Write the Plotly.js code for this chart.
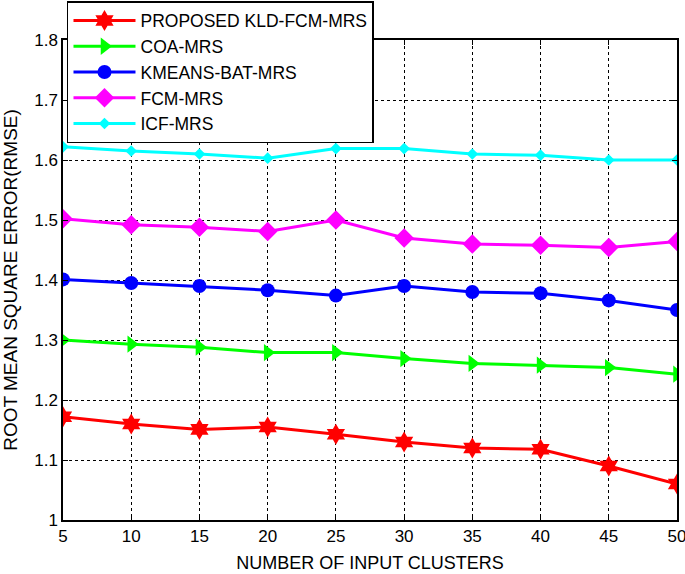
<!DOCTYPE html>
<html><head><meta charset="utf-8">
<script src="https://cdn.plot.ly/plotly-3.0.1.min.js"></script>
<style>body{margin:0;background:#fff}#chart{width:685px;height:574px}</style>
</head><body><div id="chart"></div>
<script>
const clusters = [5,10,15,20,25,30,35,40,45,50];
const proposed = [1.172,1.160,1.151,1.155,1.143,1.130,1.120,1.118,1.090,1.060];
const coa      = [1.300,1.293,1.288,1.279,1.279,1.269,1.261,1.258,1.254,1.243];
const kmeansBat= [1.401,1.395,1.390,1.383,1.374,1.390,1.380,1.378,1.366,1.350];
const fcm      = [1.502,1.492,1.488,1.481,1.500,1.470,1.460,1.458,1.454,1.464];
const icf      = [1.622,1.615,1.610,1.603,1.619,1.619,1.610,1.608,1.600,1.600];
const names = ['PROPOSED KLD-FCM-MRS','COA-MRS','KMEANS-BAT-MRS','FCM-MRS','ICF-MRS'];
const tickVals = [1,1.1,1.2,1.3,1.4,1.5,1.6,1.7,1.8];
const tickText = ['1','1.1','1.2','1.3','1.4','1.5','1.6','1.7','1.8'];

const mk = (y,name,color,symbol,size)=>({x:clusters,y:y,name:name,type:'scatter',mode:'lines+markers',
  line:{color:color,width:3},marker:{color:color,symbol:symbol,size:size}});
const data = [
  mk(proposed,names[0],'#ff0000','hexagram',16),
  mk(coa,names[1],'#00ff00','triangle-right',15),
  mk(kmeansBat,names[2],'#0000ff','circle',14),
  mk(fcm,names[3],'#ff00ff','diamond',15),
  mk(icf,names[4],'#00ffff','diamond',9)
];
const layout = {
  width:685,height:574,paper_bgcolor:'#fff',plot_bgcolor:'#fff',
  margin:{l:63,r:8,t:40,b:54,autoexpand:false},
  font:{family:'Liberation Sans, Arial, sans-serif',size:17,color:'#000'},
  showlegend:true,
  legend:{x:0.0065,y:1.081,xanchor:'left',yanchor:'top',
    bgcolor:'#fff',bordercolor:'#000',borderwidth:1.5,
    font:{size:17.5},tracegroupgap:0,itemwidth:62},
  xaxis:{range:[5,50],tickvals:clusters,ticks:'inside',ticklen:5,tickcolor:'#000',ticklabeloverflow:'allow',
    tickfont:{size:17},automargin:false,
    showline:true,linecolor:'#000',linewidth:1.5,mirror:'ticks',zeroline:false,
    showgrid:true,gridcolor:'#000',griddash:'dot',gridwidth:1,
    title:{text:'NUMBER OF INPUT CLUSTERS',font:{size:18},standoff:11}},
  yaxis:{range:[1,1.8],tickvals:tickVals,ticktext:tickText,automargin:false,
    ticks:'inside',ticklen:5,tickcolor:'#000',tickfont:{size:17},
    showline:true,linecolor:'#000',linewidth:1.5,mirror:'ticks',zeroline:false,
    showgrid:true,gridcolor:'#000',griddash:'dot',gridwidth:1,
    title:{text:'ROOT MEAN SQUARE ERROR(RMSE)',font:{size:19},standoff:12}}
};
Plotly.newPlot('chart',data,layout,{displayModeBar:false});
</script></body></html>
